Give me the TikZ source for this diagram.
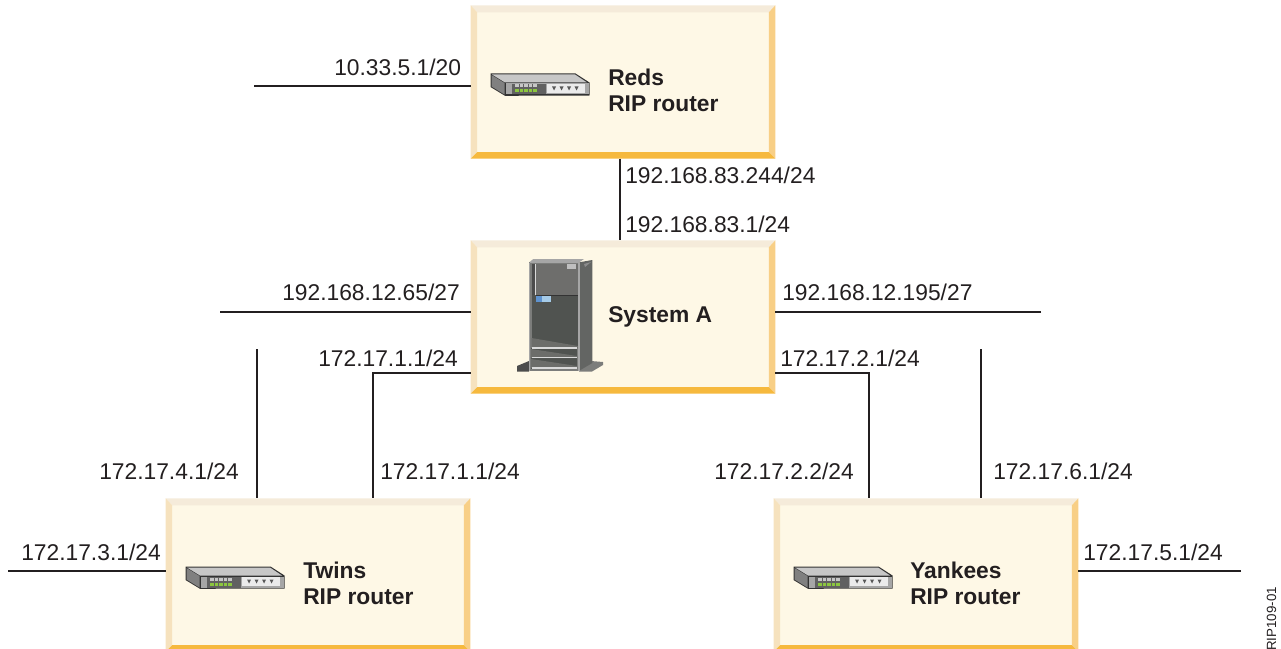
\documentclass[tikz,border=0pt]{standalone}
\usepackage{fontspec}
\setmainfont{Liberation Sans}
\definecolor{inkline}{HTML}{231F20}
\definecolor{panelfill}{HTML}{FEF8E6}
\definecolor{beveltop}{HTML}{F5EBDA}
\definecolor{bevelleft}{HTML}{F6E2BE}
\definecolor{bevelright}{HTML}{F8CF86}
\definecolor{bevelbottom}{HTML}{F6B93E}
\definecolor{cabframe}{HTML}{7C7D7B}
\definecolor{cabside}{HTML}{636563}
\definecolor{cabdoor}{HTML}{6E6E6C}
\definecolor{cabinner}{HTML}{505350}
\definecolor{cabfloor}{HTML}{6C6D6A}
\definecolor{ledgreen}{HTML}{8CC63F}
\tikzset{
	panel/.style={fill=panelfill, inner sep=0pt, minimum width=228pt, minimum height=114.5pt},
	addr/.style={anchor=base west, inner sep=0pt, text=inkline, font=\fontsize{17.1}{19}\selectfont},
	title/.style={anchor=west, inner sep=0pt, align=left, text=inkline, font=\fontsize{17.1}{19}\selectfont\bfseries},
	wire/.style={draw=inkline, line width=1.2pt},
	routericon/.pic={
		\fill[black!80] (-0.5,-0.5) -- (84.5,-0.5) -- (98.5,8.5) -- (98.5,21.5) -- (14,21.8) -- (-0.5,13) -- cycle;
		\fill[black!22] (1,0.5) -- (84,0.5) -- (96,8.5) -- (14,8.5) -- cycle;
		\fill[black!50] (0.5,1) -- (13.5,9) -- (13.5,20.5) -- (0.5,12.5) -- cycle;
		\fill[black!35] (14.5,9.5) rectangle (98,20.5);
		\fill[black!62] (21,10) rectangle (55,20.5);
		\fill[black!8] (56,10) rectangle (93.5,19);
		\foreach \px in {63,70.5,78,85.5}
			\fill[black!65] (\px-2,12.5) -- (\px+2,12.5) -- (\px,16.5) -- cycle;
		\foreach \px in {26,30.5,35,39.5,44} {
			\fill[black!22] (\px-1.6,10.5) rectangle (\px+1.6,13.5);
			\fill[ledgreen] (\px-1.6,15.5) rectangle (\px+1.6,18.5);
		}
	},
	servericon/.pic={
		% feet
		\fill[black!70] (517,371.5) -- (517,366) -- (529,361) -- (529,371.5) -- cycle;
		\fill[cabframe] (579,371.5) -- (579,368) -- (591,361) -- (603,362) -- (603,365) -- (592,371.5) -- cycle;
		% side and top
		\fill[cabside] (579.3,262.3) -- (592.3,260) -- (592.3,363) -- (579.3,370.7) -- cycle;
		\fill[black!35] (529.3,262.3) -- (533.3,259) -- (584,259) -- (579.3,262.3) -- cycle;
		\fill[black!45] (584,264) -- (591,262) -- (585,267) -- cycle;
		% front
		\fill[cabframe] (529,262.3) rectangle (579.3,371);
		\fill[black!70] (531.5,264) rectangle (535.5,295);
		\fill[cabdoor] (535.5,264) rectangle (578,295);
		\fill[cabinner] (531.5,295) rectangle (578,348);
		\fill[cabfloor] (531.5,338) -- (578,346) -- (578,348) -- (531.5,348) -- cycle;
		\fill[cabinner] (531,348) rectangle (577,369);
		\fill[cabfloor] (531,349) -- (577,356) -- (577,358) -- (531,358) -- cycle;
		\fill[cabfloor] (531,359) -- (577,366) -- (577,368) -- (531,368) -- cycle;
		\fill[black!25] (566.5,264) rectangle (576,269);
		\fill[white!85!black] (535,264) rectangle (535.8,295);
		\fill[black!80] (535.5,295) rectangle (578,295.6);
		\fill[HTML=5F93CF] (535.5,296) rectangle (542,302);
		\fill[HTML=A5CBE8] (542,296) rectangle (551,302);
		\foreach \py in {348,357.5,368}
			\draw[black!15, line width=0.8pt] (531.5,\py) -- (577,\py);
		\draw[black!35, line width=0.8pt] (529.5,262.5) -- (529.5,370.7) (579,262.5) -- (579,370.7) (529.5,262.5) -- (579,262.5);
	},
	HTML/.code={\definecolor{tmpfill}{HTML}{#1}\pgfkeysalso{/tikz/color=tmpfill}}
}
\newcommand{\bevel}[1]{
	\fill[beveltop] (#1.north west) -- (#1.north east) -- ([shift={(-6.5,7)}]#1.north east) -- ([shift={(6.5,7)}]#1.north west) -- cycle;
	\fill[bevelleft] (#1.north west) -- ([shift={(6.5,7)}]#1.north west) -- ([shift={(6.5,-6.5)}]#1.south west) -- (#1.south west) -- cycle;
	\fill[bevelright] (#1.north east) -- ([shift={(-6.5,7)}]#1.north east) -- ([shift={(-6.5,-6.5)}]#1.south east) -- (#1.south east) -- cycle;
	\fill[bevelbottom] (#1.south west) -- ([shift={(6.5,-6.5)}]#1.south west) -- ([shift={(-6.5,-6.5)}]#1.south east) -- (#1.south east) -- cycle;
}
\begin{document}
\begin{tikzpicture}[x=0.75pt, y=-0.75pt]
	\useasboundingbox (0,0) rectangle (1281,649);
	\clip (0,0) rectangle (1281,649);
	\node[panel] (reds) at (623,82) {};
	\node[panel] (sysa) at (623,317) {};
	\node[panel] (twins) at (318,575) {};
	\node[panel] (yankees) at (926,575) {};
	\foreach \n in {reds,sysa,twins,yankees} {\bevel{\n}}
	% free ends of the lines
	\coordinate (P1) at (254,86);
	\coordinate (P2) at (620,200);
	\coordinate (P3) at (220,312);
	\coordinate (P4) at (1041,312);
	\coordinate (P5) at (257,349);
	\coordinate (P6) at (373,373);
	\coordinate (P7) at (869,373);
	\coordinate (P8) at (981,349);
	\coordinate (P9) at (8,571);
	\coordinate (P10) at (1241,571);
	\draw[wire] (P1) -- (P1 -| reds.west);
	\draw[wire] (P2 |- reds.south) -- (P2 |- sysa.north);
	\draw[wire] (P3) -- (P3 -| sysa.west);
	\draw[wire] (P4) -- (P4 -| sysa.east);
	\draw[wire] (P5) -- (P5 |- twins.north);
	\draw[wire] (P6 -| sysa.west) -- (P6) -- (P6 |- twins.north);
	\draw[wire] (P7 -| sysa.east) -- (P7) -- (P7 |- yankees.north);
	\draw[wire] (P8) -- (P8 |- yankees.north);
	\draw[wire] (P9) -- (P9 -| twins.west);
	\draw[wire] (P10) -- (P10 -| yankees.east);
	\pic at (491,74) {routericon};
	\pic at (186,567) {routericon};
	\pic at (794,567) {routericon};
	\pic at (0,0) {servericon};
	\node[title] (redsname) at (608,90.5) {Reds\\RIP router};
	\node[title] (sysaname) at (608,317) {System A};
	\node[title] (twinsname) at (303,583.5) {Twins\\RIP router};
	\node[title] (yankeesname) at (910,583.5) {Yankees\\RIP router};
	\node[addr] (a1) at (334,76) {10.33.5.1/20};
	\node[addr] (a2) at (625,184) {192.168.83.244/24};
	\node[addr] (a3) at (625,232) {192.168.83.1/24};
	\node[addr] (a4) at (282,300) {192.168.12.65/27};
	\node[addr] (a5) at (782,300) {192.168.12.195/27};
	\node[addr] (a6) at (318,366) {172.17.1.1/24};
	\node[addr] (a7) at (780,366) {172.17.2.1/24};
	\node[addr] (a8) at (99,479) {172.17.4.1/24};
	\node[addr] (a9) at (380,479) {172.17.1.1/24};
	\node[addr] (a10) at (714,479) {172.17.2.2/24};
	\node[addr] (a11) at (993,479) {172.17.6.1/24};
	\node[addr] (a12) at (21,560) {172.17.3.1/24};
	\node[addr] (a13) at (1083,560) {172.17.5.1/24};
	\node[rotate=90, anchor=base west, inner sep=0pt, text=inkline, font=\fontsize{10}{12}\selectfont] (figid) at (1276,651) {RIP109-01};
\end{tikzpicture}
\end{document}
